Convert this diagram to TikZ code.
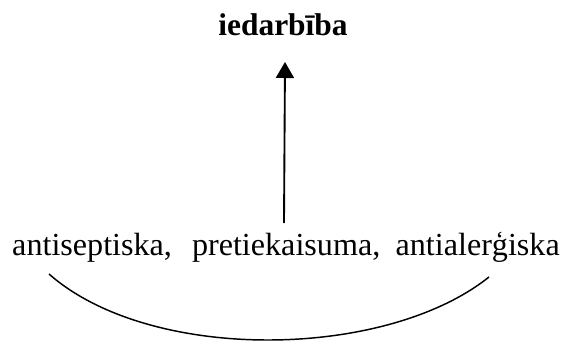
\documentclass[tikz,border=0pt]{standalone}
\usepackage{fontspec}
\setmainfont{Liberation Serif}
\usetikzlibrary{arrows.meta}
\begin{document}
\begin{tikzpicture}[x=0.75pt,y=0.75pt]
    \useasboundingbox (0,0) rectangle (564,343);

    \node[font=\fontsize{23.6}{28}\selectfont\bfseries, anchor=base] (effect) at (283,307) {iedarbība};
    \node[font=\fontsize{24.1}{29}\selectfont, anchor=base] (props) at (286,88) {antiseptiska,\hspace{15pt}pretiekaisuma,\hspace{11.5pt}antialerģiska};

    \coordinate (from) at (284,120);
    \coordinate (to) at (285,281);
    \draw[line width=1.4pt, -{Triangle[length=12pt,width=13.5pt]}] (from) -- (to);

    \coordinate (l) at (49,69);
    \coordinate (r) at (489,66);
    \draw[line width=1.1pt] (l) .. controls (150,-20) and (385,-17) .. (r);
\end{tikzpicture}
\end{document}
